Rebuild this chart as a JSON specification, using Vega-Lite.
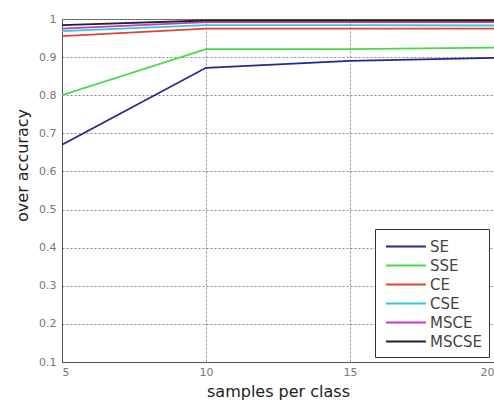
{
  "$schema": "https://vega.github.io/schema/vega-lite/v6.json",
  "width": 432,
  "height": 343,
  "autosize": {"type": "none"},
  "padding": {"left": 62, "top": 19, "right": 0, "bottom": 41},
  "background": "white",
  "data": {"values": [
    {"n": 5, "acc": 0.67, "method": "SE"},
    {"n": 10, "acc": 0.872, "method": "SE"},
    {"n": 15, "acc": 0.89, "method": "SE"},
    {"n": 20, "acc": 0.898, "method": "SE"},
    {"n": 5, "acc": 0.80, "method": "SSE"},
    {"n": 10, "acc": 0.921, "method": "SSE"},
    {"n": 15, "acc": 0.921, "method": "SSE"},
    {"n": 20, "acc": 0.925, "method": "SSE"},
    {"n": 5, "acc": 0.955, "method": "CE"},
    {"n": 10, "acc": 0.975, "method": "CE"},
    {"n": 15, "acc": 0.975, "method": "CE"},
    {"n": 20, "acc": 0.975, "method": "CE"},
    {"n": 5, "acc": 0.968, "method": "CSE"},
    {"n": 10, "acc": 0.984, "method": "CSE"},
    {"n": 15, "acc": 0.984, "method": "CSE"},
    {"n": 20, "acc": 0.983, "method": "CSE"},
    {"n": 5, "acc": 0.975, "method": "MSCE"},
    {"n": 10, "acc": 0.992, "method": "MSCE"},
    {"n": 15, "acc": 0.992, "method": "MSCE"},
    {"n": 20, "acc": 0.992, "method": "MSCE"},
    {"n": 5, "acc": 0.984, "method": "MSCSE"},
    {"n": 10, "acc": 0.996, "method": "MSCSE"},
    {"n": 15, "acc": 0.996, "method": "MSCSE"},
    {"n": 20, "acc": 0.996, "method": "MSCSE"}
  ]},
  "mark": {"type": "line", "strokeWidth": 1.8, "clip": true},
  "encoding": {
    "x": {
      "field": "n", "type": "quantitative",
      "scale": {"domain": [5, 20], "nice": false, "zero": false},
      "axis": {"values": [5, 10, 15, 20], "title": "samples per class", "titleFontSize": 16, "titleFont": "DejaVu Sans", "titleFontWeight": "normal", "titleColor": "#222", "titlePadding": 6,
        "labelFont": "DejaVu Sans", "labelFontSize": 11, "labelColor": "#777", "tickSize": 0, "labelPadding": 4,
        "domainColor": "#555", "grid": true, "gridDash": [2, 2], "gridColor": "#888", "gridOpacity": 1}
    },
    "y": {
      "field": "acc", "type": "quantitative",
      "scale": {"domain": [0.1, 1], "nice": false, "zero": false},
      "axis": {"values": [0.1, 0.2, 0.3, 0.4, 0.5, 0.6, 0.7, 0.8, 0.9, 1], "format": "~g", "title": "over accuracy", "titleFontSize": 16, "titleFont": "DejaVu Sans", "titleFontWeight": "normal", "titleColor": "#222", "titlePadding": 8, "titleY": 146,
        "labelFont": "DejaVu Sans", "labelFontSize": 11, "labelColor": "#777", "tickSize": 0, "labelPadding": 6,
        "domainColor": "#555", "grid": true, "gridDash": [2, 2], "gridColor": "#888", "gridOpacity": 1}
    },
    "color": {
      "field": "method", "type": "nominal",
      "scale": {"domain": ["SE", "SSE", "CE", "CSE", "MSCE", "MSCSE"], "range": ["#262690", "#44dd44", "#dd4433", "#33c8d8", "#cc33cc", "#222222"]},
      "sort": ["SE", "SSE", "CE", "CSE", "MSCE", "MSCSE"],
      "legend": {"title": null, "orient": "bottom-right", "offset": 5, "symbolType": "M-1,0H3.2", "symbolSize": 361, "symbolStrokeWidth": 2, "symbolOffset": 3,
        "labelFont": "DejaVu Sans", "labelFontSize": 15, "labelColor": "#444", "rowPadding": 0, "labelOffset": 24,
        "fillColor": "white", "strokeColor": "#333", "padding": 7}
    }
  },
  "config": {"view": {"stroke": "#555", "strokeWidth": 1}}
}
